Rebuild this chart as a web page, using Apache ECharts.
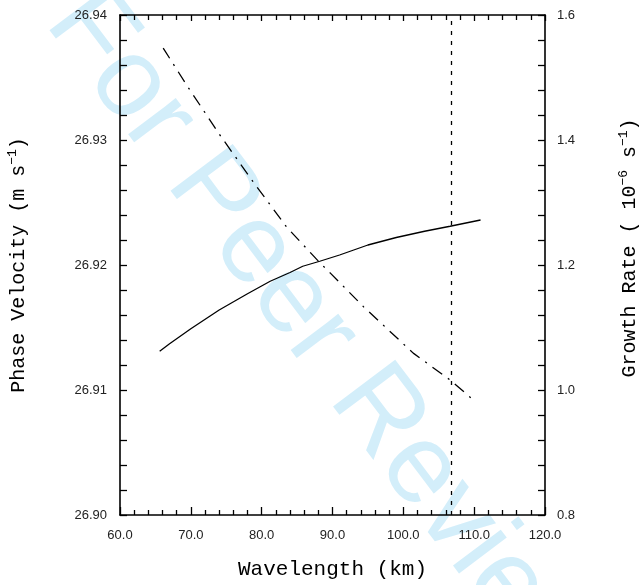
<!DOCTYPE html>
<html>
<head>
<meta charset="utf-8">
<script src="https://cdn.jsdelivr.net/npm/echarts@6/dist/echarts.min.js"></script>
<style>
html,body{margin:0;padding:0;background:#fff;}
#chart{width:640px;height:585px;}
</style>
</head>
<body>
<div id="chart"></div>
<script>
// Solid curve: phase velocity (left axis, m/s)
var wavelengthSolid = [65.6, 67.0, 70.0, 74.0, 78.0, 81.2, 84.0, 85.8, 88.2, 91.0, 93.0, 95.0, 99.0, 103.0, 106.6, 110.9];
var phaseVelocity   = [26.9131, 26.9137, 26.9149, 26.9164, 26.9177, 26.9187, 26.9194, 26.9199, 26.9203, 26.9208, 26.9212, 26.9216, 26.9222, 26.9227, 26.9231, 26.9236];
// Dash-dot curve: growth rate (right axis, 1e-6 s^-1)
var wavelengthDash = [66.1, 69.4, 74.1, 78.8, 83.5, 88.1, 89.7, 94.4, 101.4, 106.6, 110.0];
var growthRate     = [1.547, 1.488, 1.408, 1.333, 1.261, 1.205, 1.187, 1.133, 1.059, 1.016, 0.983];
// Vertical dotted marker
var markerWavelength = [106.7];
// Axis ranges / ticks
var xTicks = [60, 70, 80, 90, 100, 110, 120];
var leftTicks = [26.90, 26.91, 26.92, 26.93, 26.94];
var rightTicks = [0.8, 1.0, 1.2, 1.4, 1.6];

function pairs(xs, ys){ return xs.map(function(x,i){ return [x, ys[i]]; }); }

var chart = echarts.init(document.getElementById('chart'), null, {renderer:'canvas'});
var axisColor = '#000';
var labelFont = {fontFamily:'Liberation Sans, Arial, sans-serif', fontSize:13, color:'#222'};
var titleFont = {fontFamily:'Liberation Mono, Courier New, monospace', fontSize:20, color:'#000'};

var option = {
  animation:false,
  backgroundColor:'#fff',
  graphic:[{
    type:'text', z:0, x:69, y:4, rotation:-53*Math.PI/180,
    style:{text:'For Peer Review', fontFamily:'Liberation Sans, Arial, sans-serif', fontSize:113,
      fill:'#d3eefa', textAlign:'left', textVerticalAlign:'middle'}
  }],
  grid:{left:120, right:95, top:15, bottom:70, containLabel:false, outerBoundsMode:'none'},
  xAxis:[{
    type:'value', min:xTicks[0], max:xTicks[xTicks.length-1], interval:10,
    position:'bottom',
    name:'Wavelength (km)', nameLocation:'middle', nameGap:44,
    nameTextStyle:Object.assign({}, titleFont, {fontSize:21}),
    axisLine:{show:true, onZero:false, lineStyle:{color:axisColor, width:1.6}},
    axisTick:{show:true, inside:true, length:8, lineStyle:{color:axisColor, width:1.3}},
    minorTick:{show:true, splitNumber:5, length:5, lineStyle:{color:axisColor, width:1.3}},
    axisLabel:Object.assign({margin:14, formatter:function(v){return v.toFixed(1);}}, labelFont),
    splitLine:{show:false}
  },{
    type:'value', min:xTicks[0], max:xTicks[xTicks.length-1], interval:10,
    position:'top',
    axisLine:{show:true, onZero:false, lineStyle:{color:axisColor, width:1.6}},
    axisTick:{show:true, inside:true, length:6, lineStyle:{color:axisColor, width:1.3}},
    minorTick:{show:true, splitNumber:5, length:5, lineStyle:{color:axisColor, width:1.3}},
    axisLabel:{show:false}, splitLine:{show:false}
  }],
  yAxis:[{
    type:'value', min:leftTicks[0], max:leftTicks[leftTicks.length-1], interval:0.01,
    position:'left',
    name:'Phase Velocity (m s{sup|−1})', nameLocation:'middle', nameGap:88, nameRotate:90,
    nameTextStyle:Object.assign({rich:{sup:{fontFamily:'Liberation Mono, monospace', fontSize:13, verticalAlign:'top', lineHeight:26}}}, titleFont),
    axisLine:{show:true, onZero:false, lineStyle:{color:axisColor, width:1.6}},
    axisTick:{show:true, inside:true, length:7, lineStyle:{color:axisColor, width:1.3}},
    minorTick:{show:true, splitNumber:5, length:7, lineStyle:{color:axisColor, width:1.3}},
    axisLabel:Object.assign({margin:13, formatter:function(v){return v.toFixed(2);}}, labelFont),
    splitLine:{show:false}
  },{
    type:'value', min:rightTicks[0], max:rightTicks[rightTicks.length-1], interval:0.2,
    position:'right',
    name:'Growth Rate ( 10{sup|−6} s{sup|−1})', nameLocation:'middle', nameGap:72, nameRotate:90,
    nameTextStyle:Object.assign({padding:[0,0,0,34], rich:{sup:{fontFamily:'Liberation Mono, monospace', fontSize:13, verticalAlign:'top', lineHeight:26}}}, titleFont),
    axisLine:{show:true, onZero:false, lineStyle:{color:axisColor, width:1.6}},
    axisTick:{show:true, inside:true, length:7, lineStyle:{color:axisColor, width:1.3}},
    minorTick:{show:true, splitNumber:5, length:7, lineStyle:{color:axisColor, width:1.3}},
    axisLabel:Object.assign({margin:12, formatter:function(v){return v.toFixed(1);}}, labelFont),
    splitLine:{show:false}
  }],
  series:[{
    type:'line', name:'Phase Velocity', xAxisIndex:0, yAxisIndex:0,
    data:pairs(wavelengthSolid, phaseVelocity), smooth:false, showSymbol:false, z:3,
    lineStyle:{color:'#000', width:1.3, type:'solid'},
    markLine:{silent:true, symbol:['none','none'], label:{show:false},
      lineStyle:{color:'#000', width:1.3, type:[4,6]},
      data:markerWavelength.map(function(v){return {xAxis:v};})}
  },{
    type:'line', name:'Growth Rate', xAxisIndex:0, yAxisIndex:1,
    data:pairs(wavelengthDash, growthRate), smooth:false, showSymbol:false, z:3,
    lineStyle:{color:'#000', width:1.3, type:[12,7,2,7]}
  }]
};
chart.setOption(option);
</script>
</body>
</html>
